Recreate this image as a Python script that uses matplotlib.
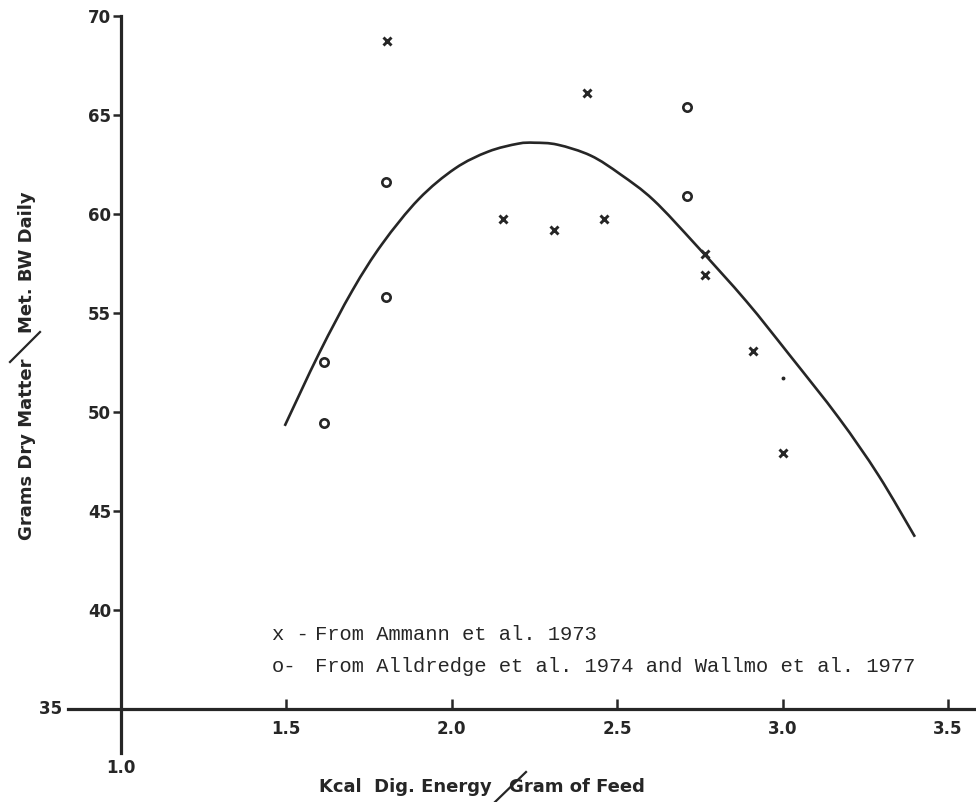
import matplotlib
matplotlib.use("Agg")
import matplotlib.pyplot as plt
from matplotlib.lines import Line2D
from matplotlib.path import Path
from matplotlib.patches import PathPatch

# ---- data ----
ammann_x = [1.805, 2.155, 2.31, 2.41, 2.46, 2.765, 2.765, 2.91, 3.00]
ammann_y = [68.75, 59.75, 59.2, 66.1, 59.75, 58.0, 56.9, 53.1, 47.95]

alldredge_x = [1.615, 1.615, 1.80, 1.80, 2.71, 2.71]
alldredge_y = [52.55, 49.45, 61.6, 55.8, 65.4, 60.9]

speck_x = [3.0]
speck_y = [51.7]

curve_x = [1.495, 1.60, 1.70, 1.79, 1.90, 2.01, 2.11, 2.20, 2.25,
           2.32, 2.42, 2.51, 2.61, 2.74, 2.89, 3.02, 3.17, 3.29, 3.40]
curve_y = [49.3, 53.0, 56.15, 58.5, 60.75, 62.3, 63.15, 63.55, 63.6,
           63.5, 62.95, 62.0, 60.7, 58.4, 55.6, 52.9, 49.7, 46.8, 43.7]

x_ticks = [1.5, 2.0, 2.5, 3.0, 3.5]
x_tick_labels = ["1.5", "2.0", "2.5", "3.0", "3.5"]
y_ticks = [40, 45, 50, 55, 60, 65, 70]
y_tick_labels = ["40", "45", "50", "55", "60", "65", "70"]

legend_lines = [("x -", "From Ammann et al. 1973"),
                ("o-", "From Alldredge et al. 1974 and Wallmo et al. 1977")]

xlabel_left = "Kcal  Dig. Energy"
xlabel_right = "Gram of Feed"
ylabel_low = "Grams Dry Matter"
ylabel_high = "Met. BW Daily"

# ---- figure ----
W, H = 976, 802
ink = "#262626"
fig = plt.figure(figsize=(W / 100, H / 100), dpi=100)

def fx(px):
    return px / W

def fy(py):
    return 1 - py / H

ax = fig.add_axes([fx(68), fy(752.6), fx(976) - fx(68), fy(16) - fy(752.6)])
ax.set_xlim(0.8399, 3.5846)
ax.set_ylim(32.8, 70)
ax.patch.set_alpha(0)

for s in ["top", "right"]:
    ax.spines[s].set_visible(False)
ax.spines["left"].set_position(("data", 1.0))
ax.spines["bottom"].set_position(("data", 35))
for s in ["left", "bottom"]:
    ax.spines[s].set_linewidth(2.3)
    ax.spines[s].set_color(ink)

tick_font = dict(family="DejaVu Sans", weight="bold", size=12)
ax.set_xticks(x_ticks)
ax.set_xticklabels(x_tick_labels, fontdict=tick_font, color=ink)
ax.set_yticks(y_ticks)
ax.set_yticklabels(y_tick_labels, fontdict=tick_font, color=ink)
ax.tick_params(axis="x", direction="in", length=7, width=1.8, pad=8, colors=ink)
ax.tick_params(axis="y", direction="out", length=6, width=1.8, pad=1, colors=ink)

# "35" label at the left end of the x axis, "1.0" under the y axis
ax.text(0.8399, 35, "35 ", ha="right", va="center", color=ink, **tick_font)
ax.annotate("1.0", xy=(1.0, 32.8), xytext=(0, -11), textcoords="offset points",
            ha="center", va="center", color=ink, **tick_font)

# smooth curve through the read points (Catmull-Rom rendered as Bezier)
pts = list(zip(curve_x, curve_y))
ext = [pts[0]] + pts + [pts[-1]]
verts = [pts[0]]
codes = [Path.MOVETO]
for i in range(1, len(ext) - 2):
    p0, p1, p2, p3 = ext[i - 1], ext[i], ext[i + 1], ext[i + 2]
    c1 = (p1[0] + (p2[0] - p0[0]) / 6, p1[1] + (p2[1] - p0[1]) / 6)
    c2 = (p2[0] - (p3[0] - p1[0]) / 6, p2[1] - (p3[1] - p1[1]) / 6)
    verts += [c1, c2, p2]
    codes += [Path.CURVE4] * 3
ax.add_patch(PathPatch(Path(verts, codes), fill=False, edgecolor=ink, lw=1.9,
                       capstyle="butt"))

ax.plot(ammann_x, ammann_y, ls="none", marker="x", ms=5.8, mew=2.1, color=ink)
ax.plot(alldredge_x, alldredge_y, ls="none", marker="o", ms=6, mew=1.9,
        mfc="white", mec=ink)
ax.plot(speck_x, speck_y, ls="none", marker="o", ms=1.8, color=ink)

# legend as typed text
mono = dict(family="Liberation Mono", size=14.8, color=ink)
for (sym, txt), py in zip(legend_lines, [635, 667]):
    fig.text(fx(272), fy(py), sym, ha="left", va="center", **mono)
    fig.text(fx(315), fy(py), txt, ha="left", va="center", **mono)

# axis labels with hand-drawn slashes
lab_font = dict(family="DejaVu Sans", weight="bold", size=13, color=ink)
fig.text(fx(492), fy(787), xlabel_left, ha="right", va="center", **lab_font)
fig.text(fx(509), fy(787), xlabel_right, ha="left", va="center", **lab_font)
fig.add_artist(Line2D([fx(495), fx(526)], [fy(802), fy(772)], color=ink, lw=1.6))

fig.text(fx(27), fy(540), ylabel_low, rotation=90, ha="center", va="bottom", **lab_font)
fig.text(fx(27), fy(333), ylabel_high, rotation=90, ha="center", va="bottom", **lab_font)
fig.add_artist(Line2D([fx(10), fx(40)], [fy(362), fy(332)], color=ink, lw=1.6))

fig.savefig("out.png", dpi=100, facecolor="white")
